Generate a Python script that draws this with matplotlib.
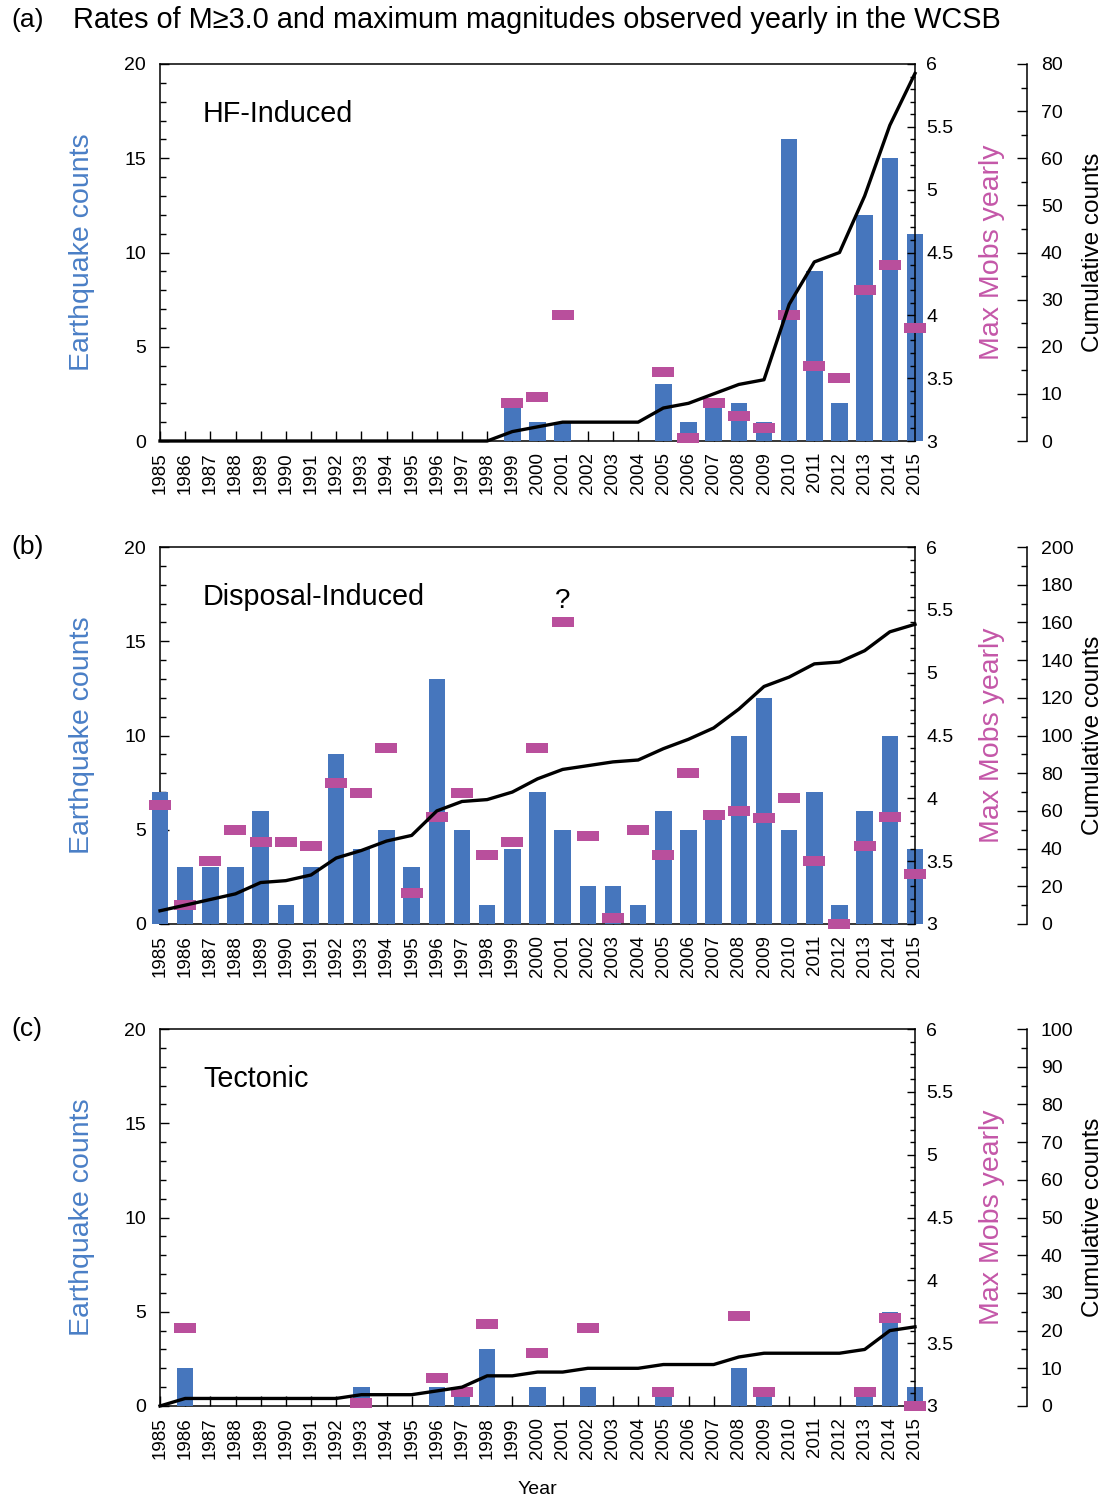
import matplotlib
matplotlib.use('Agg')
import matplotlib.pyplot as plt
from matplotlib.ticker import MultipleLocator, FuncFormatter

plt.rcParams['font.family'] = ['Liberation Sans', 'DejaVu Sans']

# ---------------- data ----------------
years = [1985, 1986, 1987, 1988, 1989, 1990, 1991, 1992, 1993, 1994, 1995,
         1996, 1997, 1998, 1999, 2000, 2001, 2002, 2003, 2004, 2005, 2006,
         2007, 2008, 2009, 2010, 2011, 2012, 2013, 2014, 2015]
year_labels = [str(y) for y in years]

# (a) HF-induced
hf_counts = [0, 0, 0, 0, 0, 0, 0, 0, 0, 0, 0, 0, 0, 0, 2, 1, 1, 0, 0, 0,
             3, 1, 2, 2, 1, 16, 9, 2, 12, 15, 11]
hf_cum = [0, 0, 0, 0, 0, 0, 0, 0, 0, 0, 0, 0, 0, 0, 2, 3, 4, 4, 4, 4,
          7, 8, 10, 12, 13, 29, 38, 40, 52, 67, 78]
hf_mmax_years = [1999, 2000, 2001, 2005, 2006, 2007, 2008, 2009, 2010,
                 2011, 2012, 2013, 2014, 2015]
hf_mmax = [3.3, 3.35, 4.0, 3.55, 3.02, 3.3, 3.2, 3.1, 4.0, 3.6, 3.5, 4.2,
           4.4, 3.9]

# (b) Disposal-induced
disp_counts = [7, 3, 3, 3, 6, 1, 3, 9, 4, 5, 3, 13, 5, 1, 4, 7, 5, 2, 2, 1,
               6, 5, 6, 10, 12, 5, 7, 1, 6, 10, 4]
disp_cum = [7, 10, 13, 16, 22, 23, 26, 35, 39, 44, 47, 60, 65, 66, 70, 77,
            82, 84, 86, 87, 93, 98, 104, 114, 126, 131, 138, 139, 145, 155, 159]
disp_mmax_years = years
disp_mmax = [3.95, 3.15, 3.5, 3.75, 3.65, 3.65, 3.62, 4.12, 4.04, 4.4, 3.25,
             3.85, 4.04, 3.55, 3.65, 4.4, 5.4, 3.7, 3.05, 3.75, 3.55, 4.2,
             3.87, 3.9, 3.84, 4.0, 3.5, 3.0, 3.62, 3.85, 3.4]

# (c) Tectonic
tect_counts = [0, 2, 0, 0, 0, 0, 0, 0, 1, 0, 0, 1, 1, 3, 0, 1, 0, 1, 0, 0,
               1, 0, 0, 2, 1, 0, 0, 0, 1, 5, 1]
tect_cum = [0, 2, 2, 2, 2, 2, 2, 2, 3, 3, 3, 4, 5, 8, 8, 9, 9, 10, 10, 10,
            11, 11, 11, 13, 14, 14, 14, 14, 15, 20, 21]
tect_mmax_years = [1986, 1993, 1996, 1997, 1998, 2000, 2002, 2005, 2008,
                   2009, 2013, 2014, 2015]
tect_mmax = [3.62, 3.02, 3.22, 3.11, 3.65, 3.42, 3.62, 3.11, 3.72, 3.11,
             3.11, 3.70, 3.0]

# ---------------- style ----------------
W, H = 1111, 1500
BLUE = '#4676bd'
LBLUE = '#4a7fc6'
MAG = '#b94f9c'
LMAG = '#c457a8'
rect = [(-1, -0.5), (1, -0.5), (1, 0.5), (-1, 0.5), (-1, -0.5)]

fig = plt.figure(figsize=(W / 100, H / 100), dpi=100)

panels = [
    ('(a)', 'HF-Induced', hf_counts, hf_cum, hf_mmax_years, hf_mmax, 80, 10, 5, 64),
    ('(b)', 'Disposal-Induced', disp_counts, disp_cum, disp_mmax_years, disp_mmax, 200, 20, 10, 547),
    ('(c)', 'Tectonic', tect_counts, tect_cum, tect_mmax_years, tect_mmax, 100, 10, 5, 1029),
]

for plab, name, counts, cum, myears, mvals, cmax, cmaj, cmin, top in panels:
    hgt = 377
    ax = fig.add_axes([160 / W, 1 - (top + hgt) / H, 755 / W, hgt / H])
    ax.bar(years, counts, width=0.66, color=BLUE, clip_on=False, zorder=3)
    ax.set_xlim(1985, 2015)
    ax.set_ylim(0, 20)
    ax.set_xticks(years)
    ax.set_xticklabels(year_labels, rotation=90, fontsize=13.5)
    ax.yaxis.set_major_locator(MultipleLocator(5))
    ax.yaxis.set_minor_locator(MultipleLocator(1))
    ax.tick_params(axis='x', direction='in', length=7, width=1, pad=8, top=False)
    ax.tick_params(axis='y', which='major', direction='in', length=6.5, width=1,
                   labelsize=14, pad=10, right=False)
    ax.tick_params(axis='y', which='minor', direction='in', length=4, width=1, right=False)
    for s in ax.spines.values():
        s.set_linewidth(1.1)
    ax.spines['right'].set_visible(False)

    # Max magnitude axis
    ax2 = ax.twinx()
    ax2.set_ylim(3, 6)
    ax2.yaxis.set_major_locator(MultipleLocator(0.5))
    ax2.yaxis.set_minor_locator(MultipleLocator(0.1))
    ax2.yaxis.set_major_formatter(FuncFormatter(lambda v, p: f'{v:g}'))
    ax2.tick_params(axis='y', which='major', direction='in', length=6, width=1,
                    labelsize=14, pad=8)
    ax2.tick_params(axis='y', which='minor', direction='in', length=3.5, width=1)
    for k in ('left', 'top', 'bottom'):
        ax2.spines[k].set_visible(False)
    ax2.spines['right'].set_linewidth(1.1)
    ax2.plot(myears, mvals, linestyle='none', marker=rect, markersize=15.8,
             markerfacecolor=MAG, markeredgewidth=0, clip_on=False, zorder=3)

    # Cumulative axis
    ax3 = ax.twinx()
    ax3.spines['right'].set_position(('axes', 867 / 755))
    for k in ('left', 'top', 'bottom'):
        ax3.spines[k].set_visible(False)
    ax3.spines['right'].set_linewidth(1.1)
    ax3.set_ylim(0, cmax)
    ax3.yaxis.set_major_locator(MultipleLocator(cmaj))
    ax3.yaxis.set_minor_locator(MultipleLocator(cmin))
    ax3.tick_params(axis='y', which='major', direction='in', length=7.5, width=1,
                    labelsize=14, pad=10)
    ax3.tick_params(axis='y', which='minor', direction='in', length=4, width=1)
    ax3.plot(years, cum, color='black', lw=2.4, clip_on=False,
             solid_joinstyle='round', zorder=4)

    # texts
    ax.text(43 / 755, 0.868, name, transform=ax.transAxes, fontsize=20.7,
            ha='left', va='center')
    ax.text(-78 / 755, 0.5, 'Earthquake counts', transform=ax.transAxes,
            rotation=90, ha='center', va='center', fontsize=20.5, color=LBLUE)
    ax.text(832 / 755, 0.5, 'Max Mobs yearly', transform=ax.transAxes,
            rotation=90, ha='center', va='center', fontsize=20.5, color=LMAG)
    ax.text(933 / 755, 0.5, 'Cumulative counts', transform=ax.transAxes,
            rotation=90, ha='center', va='center', fontsize=17.5, color='black')
    fig.text(11 / W, 1 - (top - 44 if plab == '(a)' else top) / H, plab,
             fontsize=19, ha='left', va='center')
    if plab == '(a)':
        fig.text(73 / W, 1 - 20 / H,
                 'Rates of M\u22653.0 and maximum magnitudes observed yearly in the WCSB',
                 fontsize=20.8, ha='left', va='center')
    if plab == '(b)':
        ax2.text(2001, 5.57, '?', ha='center', va='center', fontsize=20)

fig.text(537 / W, 1 - 1490 / H, 'Year', ha='center', va='center', fontsize=14)

fig.savefig('out.png', dpi=100)
